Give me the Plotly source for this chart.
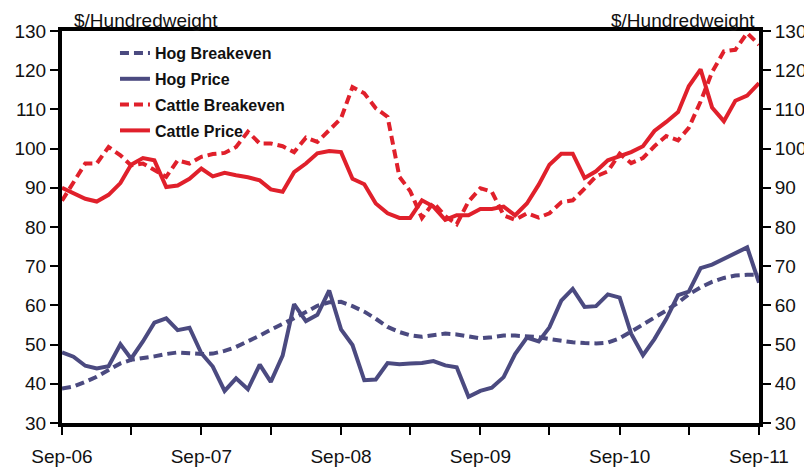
import plotly.graph_objects as go
import pandas as pd

months = pd.date_range("2006-09-01", "2011-09-01", freq="MS")

hog_breakeven = [38.8, 39.3, 40.5, 41.8, 43.5, 45.2, 46.1, 46.5, 47.0, 47.6,
                 48.0, 47.8, 47.6, 47.7, 48.4, 49.4, 50.8, 52.3, 53.8, 55.2,
                 56.7, 58.3, 59.9, 60.8, 60.9, 59.8, 58.4, 56.6, 54.5, 53.2,
                 52.4, 52.0, 52.3, 52.8, 52.6, 52.0, 51.6, 51.9, 52.3, 52.3,
                 52.1, 51.9, 51.4, 50.9, 50.6, 50.4, 50.3, 50.5, 51.6, 53.3,
                 55.1, 56.8, 58.7, 60.7, 62.8, 64.6, 66.0, 67.0, 67.6, 67.8, 67.8]

hog_price = [48.0, 46.9, 44.6, 43.9, 44.5, 50.1, 46.4, 50.8, 55.6, 56.7,
             53.7, 54.3, 47.8, 44.4, 38.2, 41.4, 38.6, 44.9, 40.5, 47.2,
             60.3, 56.0, 57.6, 63.8, 53.9, 49.9, 40.9, 41.1, 45.3, 45.0,
             45.2, 45.3, 45.8, 44.7, 44.2, 36.7, 38.2, 39.0, 41.7, 47.6,
             51.8, 50.8, 54.4, 61.2, 64.2, 59.6, 59.8, 62.8, 62.0, 52.8,
             47.3, 51.4, 56.5, 62.6, 63.5, 69.5, 70.4, 71.9, 73.2, 74.8, 65.8]

cattle_breakeven = [86.7, 91.4, 96.2, 96.2, 100.4, 98.3, 95.7, 96.2, 94.5, 92.8,
                    97.0, 96.2, 97.9, 98.6, 98.9, 100.4, 104.3, 101.3, 101.3, 100.6,
                    99.1, 102.8, 101.7, 104.7, 107.7, 115.7, 114.1, 110.3, 108.1, 92.8,
                    89.2, 82.3, 86.2, 82.8, 80.7, 86.5, 89.9, 89.0, 83.0, 81.8,
                    83.5, 82.4, 83.5, 86.3, 86.8, 89.8, 92.9, 94.2, 98.7, 96.3,
                    97.6, 100.6, 103.2, 102.1, 105.3, 112.0, 119.5, 124.8, 125.2, 129.5, 126.5]

cattle_price = [90.0, 88.7, 87.2, 86.5, 88.2, 91.2, 95.9, 97.6, 97.0, 90.2,
                90.6, 92.3, 94.9, 92.9, 93.8, 93.2, 92.7, 91.9, 89.6, 89.0,
                94.0, 96.2, 98.8, 99.4, 99.1, 92.3, 90.9, 86.0, 83.5, 82.3,
                82.3, 86.8, 85.2, 81.8, 83.0, 83.0, 84.6, 84.6, 85.2, 83.0,
                86.0, 90.8, 95.9, 98.7, 98.7, 92.5, 94.2, 97.0, 98.0, 99.1,
                100.6, 104.5, 106.8, 109.3, 115.9, 120.2, 110.5, 107.0, 112.2, 113.5, 116.7]

HOG = "#4B4A80"
CATTLE = "#E0202B"
FONT = "Liberation Sans, Arial, sans-serif"

fig = go.Figure()
series = [
    ("Hog Breakeven", hog_breakeven, HOG, "9px,5px"),
    ("Hog Price", hog_price, HOG, "solid"),
    ("Cattle Breakeven", cattle_breakeven, CATTLE, "9px,5px"),
    ("Cattle Price", cattle_price, CATTLE, "solid"),
]
for name, vals, col, dash in series:
    fig.add_trace(go.Scatter(x=months, y=vals, name=name, mode="lines",
                             legendgroup=name,
                             line=dict(color=col, width=4, dash=dash)))

# empty trace so the right-hand axis is drawn
fig.add_trace(go.Scatter(x=[], y=[], yaxis="y2", showlegend=False, hoverinfo="skip"))

axis_common = dict(range=[30, 130], dtick=10, showgrid=False, zeroline=False,
                   automargin=False,
                   showline=True, linewidth=4, linecolor="black",
                   ticks="outside", ticklen=8, tickwidth=2, tickcolor="black",
                   tickfont=dict(family=FONT, size=19, color="#111"))

# the page body has an 8px margin, so the figure is a bit smaller than the window
fig.update_layout(
    template="none",
    width=804, height=463,
    margin=dict(l=54, r=53, t=23, b=48),
    paper_bgcolor="white", plot_bgcolor="white",
    font=dict(family=FONT, color="#111"),
    xaxis=dict(range=[months[0], months[-1]], dtick="M12", tick0="2006-09-01",
               tickformat="%b-%y", showgrid=False, zeroline=False,
               automargin=False,
               showline=True, linewidth=4, linecolor="black", mirror=True,
               ticks="outside", ticklen=8, tickwidth=2, tickcolor="black",
               ticklabelstandoff=5,
               tickfont=dict(family=FONT, size=19, color="#111"),
               minor=dict(dtick="M6", tick0="2006-09-01", ticks="outside",
                          ticklen=8, tickwidth=2, tickcolor="black")),
    yaxis=dict(**axis_common),
    yaxis2=dict(overlaying="y", side="right", ticklabelstandoff=0, **axis_common),
    legend=dict(x=0.076, y=0.987, xanchor="left", yanchor="top",
                bgcolor="rgba(0,0,0,0)", tracegroupgap=2,
                font=dict(family=FONT, size=16, color="#111", weight="bold")),
    annotations=[
        dict(text="$/Hundredweight", xref="paper", yref="paper", x=0.014, y=1.058,
             xanchor="left", yanchor="top", showarrow=False,
             font=dict(family=FONT, size=19, color="#111")),
        dict(text="$/Hundredweight", xref="paper", yref="paper", x=0.997, y=1.058,
             xanchor="right", yanchor="top", showarrow=False,
             font=dict(family=FONT, size=19, color="#111")),
    ],
)

fig.write_html("out.html")
